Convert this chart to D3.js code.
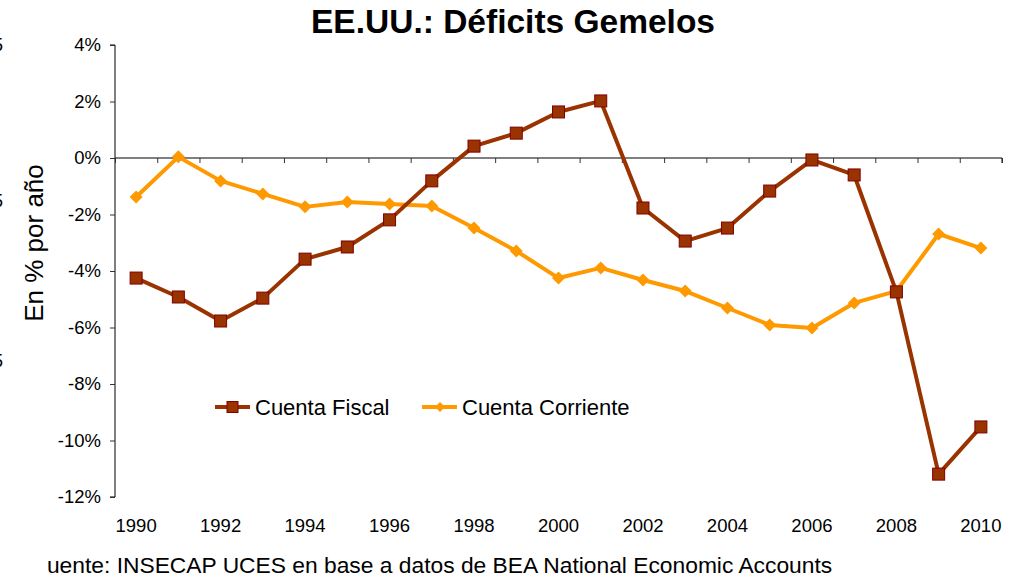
<!DOCTYPE html>
<html>
<head>
<meta charset="utf-8">
<script src="https://cdn.jsdelivr.net/npm/d3@7"></script>
<style>
body{margin:0;background:#fff;}
svg{display:block;font-family:"Liberation Sans",Arial,sans-serif;}
</style>
</head>
<body>
<svg id="chart" width="1026" height="577"></svg>
<script>
var years = [1990,1991,1992,1993,1994,1995,1996,1997,1998,1999,2000,2001,2002,2003,2004,2005,2006,2007,2008,2009,2010];
var fiscal = [-4.25,-4.92,-5.77,-4.96,-3.58,-3.15,-2.19,-0.81,0.42,0.88,1.63,2.02,-1.77,-2.94,-2.48,-1.17,-0.07,-0.60,-4.74,-11.19,-9.52];
var corriente = [-1.38,0.04,-0.81,-1.27,-1.73,-1.56,-1.63,-1.70,-2.48,-3.29,-4.25,-3.89,-4.32,-4.71,-5.31,-5.91,-6.02,-5.13,-4.71,-2.69,-3.19];
var yTicks = [4,2,0,-2,-4,-6,-8,-10,-12];
var xLabels = [1990,1992,1994,1996,1998,2000,2002,2004,2006,2008,2010];

var svg = d3.select("#chart");

var x = d3.scaleLinear().domain([1989.5, 2010.5]).range([115, 1002]);
var y = d3.scaleLinear().domain([-12, 4]).range([497, 45]);

// title
svg.append("text").attr("x", 513).attr("y", 33).attr("text-anchor", "middle")
  .style("font-size", "33.5px").style("font-weight", "bold").text("EE.UU.: Déficits Gemelos");

// y axis
var yAxis = svg.append("g").attr("transform", "translate(115,0)")
  .call(d3.axisLeft(y).tickValues(yTicks).tickSize(5).tickPadding(9).tickFormat(function(d){ return d + "%"; }));
yAxis.select(".domain").attr("stroke", "#000").attr("d", "M-5," + y(-12) + "H0V" + y(4) + "H-5");
yAxis.selectAll(".tick line").attr("stroke", "#333");
yAxis.selectAll("text").style("font-size", "18.5px").style("font-family", "Liberation Sans, Arial, sans-serif").attr("fill", "#000");

// x axis at zero (ticks between categories)
var bounds = d3.range(1989.5, 2011, 1);
var xAxis = svg.append("g").attr("transform", "translate(0," + y(0) + ")")
  .call(d3.axisBottom(x).tickValues(bounds).tickSize(5).tickFormat(""));
xAxis.select(".domain").attr("stroke", "#000").attr("d", "M" + x(1989.5) + ",0H" + x(2010.5) + "V5");
xAxis.selectAll(".tick line").attr("stroke", "#333");

// x labels at bottom
svg.append("g").selectAll("text").data(xLabels).enter().append("text")
  .attr("x", function(d){ return x(d); }).attr("y", 532)
  .attr("text-anchor", "middle").style("font-size", "18.5px").text(function(d){ return d; });

// y label
svg.append("text").attr("transform", "translate(43,243) rotate(-90)")
  .attr("text-anchor", "middle").style("font-size", "26px").text("En % por año");

// lines
var line = d3.line().x(function(d, i){ return x(years[i]); }).y(function(d){ return y(d); });

svg.append("path").datum(corriente).attr("fill", "none").attr("stroke", "#FF9900")
  .attr("stroke-width", 4).attr("stroke-linejoin", "round").attr("d", line);
svg.append("path").datum(fiscal).attr("fill", "none").attr("stroke", "#993300")
  .attr("stroke-width", 4).attr("stroke-linejoin", "round").attr("d", line);

// diamonds
var diamond = "M0,-6.5L6.5,0L0,6.5L-6.5,0Z";
svg.append("g").selectAll("path").data(corriente).enter().append("path")
  .attr("d", diamond).attr("fill", "#FF9900")
  .attr("transform", function(d, i){ return "translate(" + x(years[i]) + "," + y(d) + ")"; });

// squares
svg.append("g").selectAll("rect").data(fiscal).enter().append("rect")
  .attr("x", function(d, i){ return x(years[i]) - 6; }).attr("y", function(d){ return y(d) - 6; })
  .attr("width", 12).attr("height", 12).attr("fill", "#993300").attr("stroke", "#800000").attr("stroke-width", 1);

// legend
var lg = svg.append("g");
lg.append("line").attr("x1", 215).attr("x2", 250).attr("y1", 407).attr("y2", 407).attr("stroke", "#993300").attr("stroke-width", 4);
lg.append("rect").attr("x", 227).attr("y", 401.5).attr("width", 11).attr("height", 11).attr("fill", "#993300").attr("stroke", "#800000");
lg.append("text").attr("x", 255).attr("y", 415).style("font-size", "22px").text("Cuenta Fiscal");
lg.append("line").attr("x1", 422).attr("x2", 457).attr("y1", 407).attr("y2", 407).attr("stroke", "#FF9900").attr("stroke-width", 4);
lg.append("path").attr("d", "M0,-5L5,0L0,5L-5,0Z").attr("fill", "#FF9900").attr("transform", "translate(440,407)");
lg.append("text").attr("x", 462).attr("y", 415).style("font-size", "22px").text("Cuenta Corriente");

// source (first letter hidden behind the left frame)
svg.append("clipPath").attr("id", "srcclip").append("rect").attr("x", 47).attr("y", 540).attr("width", 980).attr("height", 37);
svg.append("text").attr("x", 33).attr("y", 573).style("font-size", "22.8px").attr("clip-path", "url(#srcclip)")
  .text("Fuente: INSECAP UCES en base a datos de BEA National Economic Accounts");

// cut-off fragments at the left border
svg.append("g").selectAll("text").data([51, 207, 367]).enter().append("text")
  .attr("x", -7).attr("y", function(d){ return d; }).style("font-size", "18px").text("5");
</script>
</body>
</html>
